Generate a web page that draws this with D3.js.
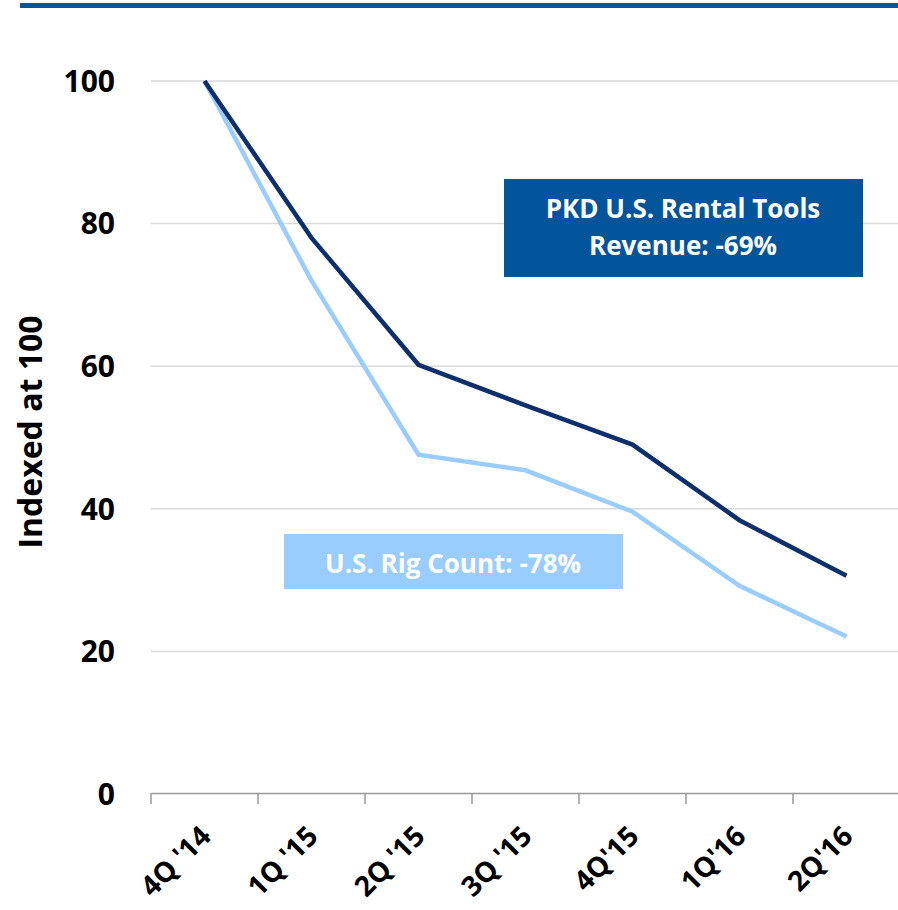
<!DOCTYPE html>
<html>
<head>
<meta charset="utf-8">
<script src="https://cdn.jsdelivr.net/npm/d3@7"></script>
<style>
  body { margin: 0; background: #fff; }
  text { font-family: "Open Sans", Lato, sans-serif; }
</style>
</head>
<body>
<svg id="chart" width="898" height="910"></svg>
<script>
const quarters = ["4Q '14", "1Q '15", "2Q '15", "3Q '15", "4Q'15", "1Q'16", "2Q'16"];
const rentalTools = [100, 78, 60.2, 54.5, 49, 38.4, 30.6];
const rigCount = [100, 72, 47.6, 45.4, 39.6, 29.2, 22.1];
const yTicks = [0, 20, 40, 60, 80, 100];

const svg = d3.select("#chart");
const width = +svg.attr("width"), height = +svg.attr("height");
const margin = { top: 81, right: 0, bottom: 116, left: 151 };

// top rule
svg.append("rect")
  .attr("x", 20).attr("y", 3)
  .attr("width", width - 20).attr("height", 5)
  .attr("fill", "#0a5596");

const x = d3.scaleBand().domain(quarters).range([margin.left, 900]);
const y = d3.scaleLinear().domain([0, 100]).range([height - margin.bottom, margin.top]);

// gridlines
svg.append("g")
  .selectAll("line")
  .data(yTicks.filter(d => d > 0))
  .join("line")
  .attr("x1", margin.left).attr("x2", width)
  .attr("y1", d => y(d)).attr("y2", d => y(d))
  .attr("stroke", "#d9d9d9").attr("stroke-width", 1.5);

// y labels
svg.append("g")
  .selectAll("text")
  .data(yTicks)
  .join("text")
  .attr("x", 115)
  .attr("y", d => y(d))
  .attr("dy", "0.36em")
  .attr("text-anchor", "end")
  .style("font-size", "30px")
  .style("font-weight", "bold")
  .text(d => d);

svg.append("text")
  .attr("transform", `translate(42,432) rotate(-90)`)
  .attr("text-anchor", "middle")
  .style("font-size", "32px")
  .style("font-weight", "bold")
  .text("Indexed at 100");

// x axis
const xAxis = svg.append("g")
  .attr("transform", `translate(0,${y(0) - 1})`)
  .call(d3.axisBottom(x).tickSizeInner(0).tickSizeOuter(0).tickFormat(""));
xAxis.select(".domain").attr("stroke", "#999").attr("stroke-width", 1.5);

svg.append("g")
  .selectAll("line")
  .data(quarters)
  .join("line")
  .attr("x1", d => x(d)).attr("x2", d => x(d))
  .attr("y1", y(0) - 1).attr("y2", y(0) + 10)
  .attr("stroke", "#999").attr("stroke-width", 1.5);

svg.append("g")
  .selectAll("text")
  .data(quarters)
  .join("text")
  .attr("transform", d => `translate(${x(d) + x.bandwidth() / 2 + 8},${y(0) + 44}) rotate(-45)`)
  .attr("text-anchor", "end")
  .style("font-size", "28px")
  .style("font-weight", "bold")
  .text(d => d);

// lines
const line = d3.line()
  .x((d, i) => x(quarters[i]) + x.bandwidth() / 2)
  .y(d => y(d));

svg.append("path")
  .datum(rigCount)
  .attr("d", line)
  .attr("fill", "none")
  .attr("stroke", "#99ccff")
  .attr("stroke-width", 4.5);

svg.append("path")
  .datum(rentalTools)
  .attr("d", line)
  .attr("fill", "none")
  .attr("stroke", "#0d2f6e")
  .attr("stroke-width", 4.5);

// labels
svg.append("rect")
  .attr("x", 504).attr("y", 179)
  .attr("width", 359).attr("height", 98)
  .attr("fill", "#02559a");
svg.append("text")
  .attr("x", 683).attr("y", 218)
  .attr("text-anchor", "middle")
  .attr("fill", "#fff")
  .style("font-size", "26px")
  .style("font-weight", "bold")
  .text("PKD U.S. Rental Tools");
svg.append("text")
  .attr("x", 683).attr("y", 255)
  .attr("text-anchor", "middle")
  .attr("fill", "#fff")
  .style("font-size", "26px")
  .style("font-weight", "bold")
  .text("Revenue: -69%");

svg.append("rect")
  .attr("x", 284).attr("y", 534)
  .attr("width", 339).attr("height", 55)
  .attr("fill", "#99ccff");
svg.append("text")
  .attr("x", 453).attr("y", 573)
  .attr("text-anchor", "middle")
  .attr("fill", "#fff")
  .style("font-size", "26px")
  .style("font-weight", "bold")
  .text("U.S. Rig Count: -78%");
</script>
</body>
</html>
